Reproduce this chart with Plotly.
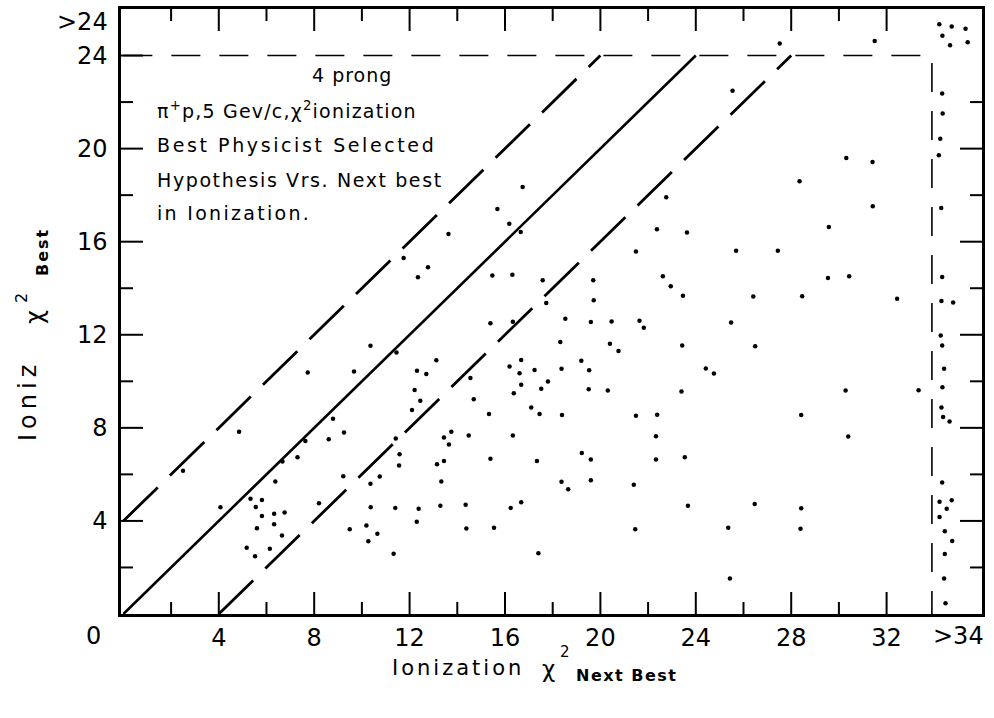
import plotly.graph_objects as go

# ---- data ----
next_best = [17.73, 15.39, 16.33, 10.36, 11.45, 7.73, 9.67, 13.12, 12.31, 12.70, 16.19, 16.68, 16.61, 17.24,
             17.80, 16.68, 16.37, 17.52, 12.21, 12.45, 12.10, 14.55, 14.69, 15.33, 17.10, 17.45, 8.79, 9.25,
             8.61, 7.63, 4.85, 6.67, 7.30, 6.37, 2.50, 4.07, 5.33, 5.81, 5.55, 5.81, 6.32, 6.76, 5.60, 6.32,
             6.65, 5.17, 5.52, 6.14, 8.20, 9.22, 9.49, 10.36, 10.75, 10.37, 10.19, 10.65, 10.27, 11.33, 11.42,
             11.58, 11.56, 11.40, 12.38, 12.30, 13.44, 13.75, 13.65, 14.48, 13.15, 13.44, 13.33, 13.29, 14.35,
             14.38, 15.54, 15.39, 16.33, 17.34, 16.24, 16.68, 17.40,
             19.72, 18.53, 19.60, 20.47, 21.64, 21.82, 25.48, 18.32, 20.40, 20.76, 23.43, 26.49, 19.20, 18.37,
             19.53, 24.42, 24.76, 19.51, 20.31, 23.40, 30.28, 33.34, 18.39, 21.49, 22.38, 28.42, 22.33, 30.39,
             19.22, 19.60, 22.33, 23.54, 18.37, 18.65, 19.60, 21.40, 23.67, 26.47, 28.42, 21.46, 25.36, 28.39,
             25.43,
             27.52, 31.50, 25.54, 16.74, 16.18, 16.66, 22.76, 22.37, 23.63, 21.49, 25.69, 27.44, 28.35, 30.31,
             31.41, 31.42, 29.58, 16.31, 17.58, 19.70, 22.62, 22.95, 23.46, 26.41, 28.46, 29.54, 30.43, 32.44,
             15.68, 13.63, 11.75, 12.35, 12.77, 15.47]
best = [13.36, 12.50, 12.56, 11.53, 11.24, 10.38, 10.42, 10.90, 10.45, 10.31, 10.64, 10.92, 10.35, 10.49,
        9.99, 9.85, 9.49, 9.68, 9.63, 9.16, 8.77, 10.14, 9.23, 8.59, 8.87, 8.59, 8.39, 7.80,
        7.51, 7.44, 7.83, 6.55, 6.74, 5.69, 6.16, 4.59, 4.95, 4.90, 4.60, 4.21, 4.31, 4.36, 3.69, 3.86,
        3.37, 2.85, 2.48, 2.80, 4.76, 5.92, 3.64, 5.60, 5.91, 4.59, 3.80, 3.45, 3.13, 2.59, 7.54,
        6.87, 6.38, 4.56, 4.52, 3.96, 7.58, 7.83, 7.28, 7.67, 6.44, 6.58, 5.69, 4.65, 4.70,
        3.67, 3.71, 6.67, 7.67, 6.58, 4.56, 4.80, 2.61,
        13.48, 12.69, 12.55, 12.57, 12.60, 12.30, 12.53, 11.69, 11.61, 11.30, 11.54, 11.51, 10.88, 10.54,
        10.48, 10.55, 10.34, 9.66, 9.61, 9.56, 9.61, 9.62, 8.55, 8.52, 8.56, 8.55, 7.64, 7.63,
        6.92, 6.64, 6.64, 6.74, 5.68, 5.36, 5.75, 5.55, 4.65, 4.73, 4.55, 3.64, 3.71, 3.66,
        1.53,
        24.52, 24.62, 22.49, 18.35, 16.77, 16.42, 17.91, 16.53, 16.39, 15.58, 15.61, 15.61, 18.60, 19.60,
        19.43, 17.52, 16.63, 14.58, 14.34, 14.34, 14.51, 14.09, 13.68, 13.65, 13.66, 14.44, 14.51, 13.55,
        17.41, 16.33, 15.30, 14.47, 14.90, 14.55]

# overflow column (next best > 34) and overflow row (best > 24)
over_x_next = [34.30, 34.79, 34.27, 34.33, 34.41, 34.34, 34.30, 34.37, 34.64, 34.33, 34.22, 34.73, 34.52,
               34.22, 34.44, 34.75, 34.44, 34.41, 34.47, 34.33, 34.35, 34.25, 34.19, 34.29, 34.33,
               34.21, 34.73, 35.31, 34.34, 34.66, 35.40]
over_x_best = [13.45, 13.39, 11.97, 11.54, 10.54, 9.75, 8.87, 8.47, 8.27, 5.65, 4.82, 4.89, 4.52,
               4.17, 3.56, 3.14, 2.58, 1.53, 0.46, 22.37, 21.51, 20.42, 19.71, 17.45, 14.48,
               25.35, 25.25, 25.15, 24.85, 24.44, 24.57]

band_offsets = [-4, 0, 4]      # diagonal lines best = next_best + offset
best_cut = 24                  # dashed horizontal limit
next_cut = 33.9                # dashed vertical limit
x_ticks = [4, 8, 12, 16, 20, 24, 28, 32]
x_minor = [2, 6, 10, 14, 18, 22, 26, 30]
y_ticks = [4, 8, 12, 16, 20, 24]
y_minor = [2, 6, 10, 14, 18, 22]
x_range = [-0.1, 36]
y_range = [0, 26]

W, H = 994, 718
M = dict(l=121, r=12, t=9, b=104)
FONT = "DejaVu Sans"
fig = go.Figure()

for off in band_offsets:
    x0 = max(0, -off)
    x1 = best_cut - off
    fig.add_trace(go.Scatter(
        x=[x0, x1], y=[x0 + off, x1 + off], mode="lines",
        line=dict(color="black", width=2.6 if off == 0 else 2.8,
                  dash="solid" if off == 0 else "48px,17px"),
        hoverinfo="skip", showlegend=False))

fig.add_trace(go.Scatter(
    x=[0, next_cut, next_cut], y=[best_cut, best_cut, 0], mode="lines",
    line=dict(color="black", width=1.6, dash="29px,19px"),
    hoverinfo="skip", showlegend=False))

fig.add_trace(go.Scatter(
    x=next_best + over_x_next, y=best + over_x_best, mode="markers",
    marker=dict(color="black", size=4.5, line=dict(width=0)),
    showlegend=False))

# inward tick marks drawn at the tick values; pixel lengths converted to axis units
MAJ, MIN = 22, 12
ux = (x_range[1] - x_range[0]) / (W - M["l"] - M["r"])   # x units per pixel
uy = (y_range[1] - y_range[0]) / (H - M["t"] - M["b"])   # y units per pixel
tx, ty = [], []
for vals, ln in ((x_ticks, MAJ), (x_minor, MIN)):
    for v in vals:
        tx += [v, v, None, v, v, None]
        ty += [y_range[0], y_range[0] + ln * uy, None, y_range[1], y_range[1] - ln * uy, None]
for vals, ln in ((y_ticks, MAJ), (y_minor, MIN)):
    for v in vals:
        tx += [x_range[0], x_range[0] + ln * ux, None]
        ty += [v, v, None]
        if v < best_cut:
            tx += [x_range[1], x_range[1] - ln * ux, None]
            ty += [v, v, None]
fig.add_trace(go.Scatter(x=tx, y=ty, mode="lines", line=dict(color="black", width=2),
                         hoverinfo="skip", showlegend=False, cliponaxis=False))

tickfont = dict(family=FONT, size=24, color="black")
fig.update_layout(
    xaxis=dict(range=x_range, tickmode="array", tickvals=x_ticks,
               ticktext=[str(v) for v in x_ticks], ticks="",
               showline=True, linecolor="black", linewidth=2.5, mirror=True,
               showgrid=False, zeroline=False, automargin=False, tickfont=tickfont),
    yaxis=dict(range=y_range, tickmode="array", tickvals=y_ticks,
               ticktext=[str(v) for v in y_ticks], ticks="", ticklabelstandoff=6,
               showline=True, linecolor="black", linewidth=2.5, mirror=True,
               showgrid=False, zeroline=False, automargin=False, tickfont=tickfont),
)

F = lambda s, b=False: dict(family=FONT, size=s, color="black", weight="bold" if b else "normal")
px = lambda p: (p - M["l"]) / (W - M["l"] - M["r"])
py = lambda p: (H - M["b"] - p) / (H - M["t"] - M["b"])

ann = []
ann.append(dict(x=px(93), y=py(636), text="0", font=F(24)))
ann.append(dict(x=px(958), y=py(636), text=">34", font=F(24)))
ann.append(dict(x=px(110), y=py(22), xanchor="right", text=">24", font=F(24)))

info_lines = [
    (9.6, 23.18, "4 prong", "center", 1.0),
    (1.32, 21.68, "π<sup>+</sup>p,5 Gev/c,χ<sup>2</sup>ionization", "left", 1.2),
    (1.32, 20.17, "Best Physicist Selected", "left", 2.6),
    (1.32, 18.67, "Hypothesis Vrs. Next best", "left", 1.6),
    (1.32, 17.25, "in Ionization.", "left", 2.3),
]
for x, y, t, anc, sp in info_lines:
    ann.append(dict(x=x, y=y, xref="x", yref="y", xanchor=anc,
                    text=f'<span style="letter-spacing:{sp}px">{t}</span>', font=F(19)))

ann += [
    dict(x=px(390), y=py(668), xanchor="left", text='<span style="letter-spacing:3px">Ionization</span>',
         font=F(21)),
    dict(x=px(548), y=py(669), text="χ", font=F(23)),
    dict(x=px(565), y=py(652), text="2", font=F(15)),
    dict(x=px(574), y=py(675), xanchor="left", text='<span style="letter-spacing:1.5px">Next Best</span>',
         font=F(16, True)),
]
ann += [
    dict(x=px(28), y=py(401), textangle=-90, text='<span style="letter-spacing:5px">Ioniz</span>',
         font=F(24)),
    dict(x=px(35), y=py(317), textangle=-90, text="χ", font=F(24)),
    dict(x=px(21), y=py(298), textangle=-90, text="2", font=F(16)),
    dict(x=px(43), y=py(252), textangle=-90, text='<span style="letter-spacing:2px">Best</span>',
         font=F(16, True)),
]
for a in ann:
    a.setdefault("xref", "paper")
    a.setdefault("yref", "paper")
    a.setdefault("xanchor", "center")
    a.setdefault("yanchor", "middle")
    a["showarrow"] = False

fig.update_layout(width=W, height=H, margin=M,
                  plot_bgcolor="white", paper_bgcolor="white", annotations=ann,
                  showlegend=False)

fig.write_html("out.html")
